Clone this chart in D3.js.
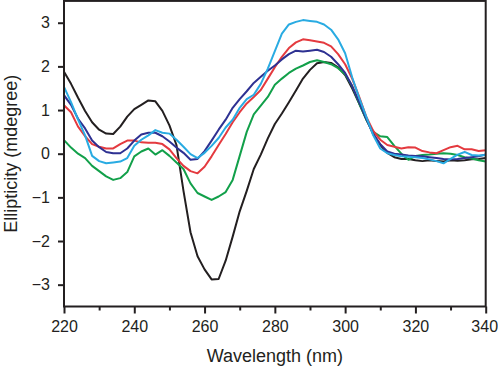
<!DOCTYPE html>
<html>
<head>
<meta charset="utf-8">
<script src="https://cdn.jsdelivr.net/npm/d3@7"></script>
<style>
  html, body { margin: 0; padding: 0; background: #fff; }
  svg { display: block; }
  text { font-family: "Liberation Sans", Arial, Helvetica, sans-serif; fill: #231f20; }
</style>
</head>
<body>
<svg id="chart" width="498" height="366"></svg>
<script>
// Wavelengths (nm), 2 nm step
const wavelengths = d3.range(220, 341, 2);

const blackSeries = [1.88,1.6,1.28,0.98,0.72,0.55,0.46,0.45,0.62,0.85,1.02,1.12,1.22,1.2,0.98,0.65,0.2,-0.85,-1.8,-2.35,-2.65,-2.88,-2.87,-2.45,-1.9,-1.32,-0.85,-0.35,-0.02,0.35,0.68,0.92,1.18,1.45,1.72,1.92,2.07,2.1,2.08,1.98,1.8,1.5,1.15,0.8,0.45,0.2,0.02,-0.08,-0.12,-0.12,-0.15,-0.17,-0.15,-0.17,-0.18,-0.15,-0.16,-0.15,-0.13,-0.12,-0.1];
const redSeries = [1.11,0.95,0.62,0.4,0.22,0.16,0.12,0.12,0.22,0.3,0.3,0.26,0.25,0.25,0.22,0.1,-0.1,-0.28,-0.4,-0.45,-0.3,-0.06,0.2,0.45,0.72,0.95,1.15,1.3,1.46,1.72,1.98,2.22,2.42,2.55,2.62,2.6,2.57,2.54,2.46,2.28,2.05,1.72,1.3,0.85,0.52,0.32,0.2,0.16,0.12,0.15,0.14,0.06,0.03,0.01,0.08,0.15,0.18,0.1,0.1,0.06,0.08];
const navySeries = [1.34,1.12,0.8,0.58,0.3,0.15,0.04,0.01,0.01,0.12,0.3,0.44,0.48,0.48,0.4,0.28,0.14,0.02,-0.14,-0.12,0.06,0.3,0.55,0.78,1.05,1.25,1.43,1.62,1.76,1.9,2.02,2.16,2.28,2.36,2.34,2.36,2.38,2.33,2.22,2.05,1.85,1.55,1.18,0.8,0.45,0.22,0.05,0.0,-0.02,-0.04,-0.05,-0.06,-0.08,-0.1,-0.12,-0.13,-0.12,-0.1,-0.08,-0.06,-0.02];
const cyanSeries = [1.53,1.18,0.78,0.42,-0.05,-0.17,-0.22,-0.2,-0.18,-0.1,0.18,0.32,0.42,0.54,0.48,0.46,0.32,0.16,-0.01,-0.1,0.02,0.18,0.36,0.6,0.78,1.05,1.25,1.35,1.6,1.95,2.35,2.75,2.96,3.02,3.06,3.04,3.02,2.96,2.84,2.62,2.3,1.75,1.28,0.85,0.42,0.12,0.01,-0.03,-0.06,-0.07,-0.08,-0.1,-0.13,-0.17,-0.22,-0.12,-0.02,0.04,-0.03,-0.04,-0.03];
const greenSeries = [0.31,0.14,0.0,-0.1,-0.28,-0.4,-0.52,-0.6,-0.56,-0.42,-0.06,0.05,0.12,-0.02,0.08,-0.05,-0.2,-0.35,-0.68,-0.9,-0.98,-1.06,-0.98,-0.88,-0.6,-0.05,0.5,0.9,1.1,1.3,1.58,1.72,1.85,1.95,2.02,2.1,2.14,2.1,2.05,1.96,1.82,1.55,1.15,0.78,0.5,0.4,0.38,0.18,0.0,-0.14,-0.05,-0.03,-0.02,0.0,0.01,0.0,-0.03,-0.08,-0.11,-0.15,-0.18];

const xTickValues = [220,240,260,280,300,320,340];
const xMinorTickValues = [230,250,270,290,310,330];
const yTickValues = [-3,-2,-1,0,1,2,3];

const series = [
  { name: "black", values: blackSeries, color: "#231f20" },
  { name: "green", values: greenSeries, color: "#12a04a" },
  { name: "red", values: redSeries, color: "#e43a3f" },
  { name: "navy", values: navySeries, color: "#2e3192" },
  { name: "cyan", values: cyanSeries, color: "#29abe2" }
];

const svg = d3.select("#chart");
const mLeft = 64, mRight = 485.7, mTop = 0.9, mBottom = 306.5;

const x = d3.scaleLinear().domain([220, 340]).range([mLeft, mRight]);
const y = d3.scaleLinear().domain([-3.5, 3.5]).range([mBottom, mTop]);

// minor x ticks
svg.append("g")
  .attr("transform", `translate(0,${mBottom})`)
  .call(d3.axisBottom(x).tickValues(xMinorTickValues).tickSize(4).tickFormat(""))
  .call(g => g.select(".domain").remove())
  .call(g => g.selectAll("line").attr("stroke", "#231f20").attr("stroke-width", 2));

// major x ticks
svg.append("g")
  .attr("transform", `translate(0,${mBottom})`)
  .call(d3.axisBottom(x).tickValues(xTickValues).tickSize(7).tickPadding(7).tickFormat(d3.format("d")))
  .call(g => g.select(".domain").remove())
  .call(g => g.selectAll("line").attr("stroke", "#231f20").attr("stroke-width", 2))
  .call(g => g.selectAll("text").attr("font-size", 16).attr("font-family", "Liberation Sans, Arial, sans-serif").attr("fill", "#231f20"))
  .call(g => g.selectAll("text").filter(d => d === 340).attr("dx", -1.5));

// y ticks
svg.append("g")
  .attr("transform", `translate(${mLeft},0)`)
  .call(d3.axisLeft(y).tickValues(yTickValues).tickSize(6).tickPadding(8).tickFormat(d => d < 0 ? "\u2212" + Math.abs(d) : String(d)))
  .call(g => g.select(".domain").remove())
  .call(g => g.selectAll("line").attr("stroke", "#231f20").attr("stroke-width", 2))
  .call(g => g.selectAll("text").attr("font-size", 16).attr("font-family", "Liberation Sans, Arial, sans-serif").attr("fill", "#231f20"));

// lines
const line = d3.line()
  .x((d, i) => x(wavelengths[i]))
  .y(d => y(d));

svg.append("defs").append("clipPath").attr("id", "clip")
  .append("rect").attr("x", mLeft).attr("y", mTop).attr("width", mRight - mLeft).attr("height", mBottom - mTop);

const lg = svg.append("g").attr("clip-path", "url(#clip)");
series.forEach(s => {
  lg.append("path")
    .datum(s.values)
    .attr("fill", "none")
    .attr("stroke", s.color)
    .attr("stroke-width", 2)
    .attr("stroke-linejoin", "round")
    .attr("d", line);
});

// frame
svg.append("rect")
  .attr("x", mLeft).attr("y", mTop)
  .attr("width", mRight - mLeft).attr("height", mBottom - mTop)
  .attr("fill", "none").attr("stroke", "#231f20").attr("stroke-width", 2);

// axis titles
svg.append("text")
  .attr("x", (mLeft + mRight) / 2).attr("y", 361.5)
  .attr("text-anchor", "middle").attr("font-size", 18)
  .text("Wavelength (nm)");

svg.append("text")
  .attr("transform", `translate(16.5,${(mTop + mBottom) / 2}) rotate(-90)`)
  .attr("text-anchor", "middle").attr("font-size", 18)
  .text("Ellipticity (mdegree)");
</script>
</body>
</html>
